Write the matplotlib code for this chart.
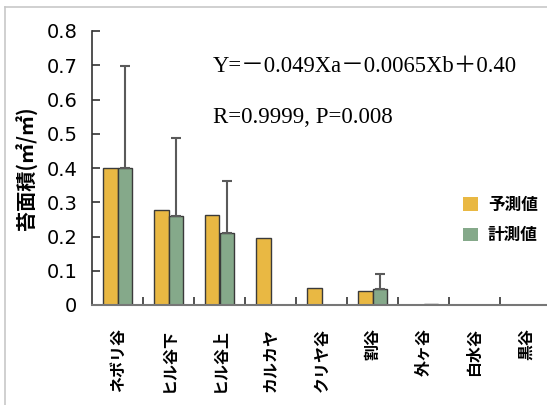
import matplotlib
matplotlib.use("Agg")
import matplotlib.pyplot as plt
from matplotlib.patches import Patch
from matplotlib.lines import Line2D
import numpy as np

plt.rcParams['font.family'] = ['Noto Sans CJK JP', 'DejaVu Sans']

categories = ["ネボリ谷", "ヒル谷下", "ヒル谷上", "カルカヤ", "クリヤ谷", "割谷", "外ヶ谷", "白水谷", "黒谷"]
predicted = [0.40, 0.278, 0.264, 0.196, 0.051, 0.042, 0.0, 0.0, 0.0]
measured = [0.40, 0.261, 0.210, 0.0, 0.0, 0.046, 0.002, 0.0, 0.0]
measured_err = [0.298, 0.227, 0.153, 0.0, 0.0, 0.044, 0.0, 0.0, 0.0]
yticks = [0, 0.1, 0.2, 0.3, 0.4, 0.5, 0.6, 0.7, 0.8]
ytick_labels = ["0", "0.1", "0.2", "0.3", "0.4", "0.5", "0.6", "0.7", "0.8"]

W, H = 547, 405
fig = plt.figure(figsize=(W / 100, H / 100), dpi=100)
ax = fig.add_axes([92 / W, 1 - 305 / H, 459 / W, 274 / H])

x = np.arange(len(categories))
bw = 0.285
yellow = "#E9B843"
green = "#85A98A"
edge = "#3a3a3a"

ax.bar(x - bw / 2, predicted, bw, color=yellow, edgecolor=edge, linewidth=1.0, zorder=2)
mx = [xi for xi, v in zip(x, measured) if v > 0]
mv = [v for v in measured if v > 0]
ax.bar(np.array(mx) + bw / 2, mv, bw, color=green, edgecolor=edge, linewidth=1.0, zorder=2)
ex = [xi + bw / 2 for xi, e in zip(x, measured_err) if e > 0]
ey = [v for v, e in zip(measured, measured_err) if e > 0]
ee = [e for e in measured_err if e > 0]
ax.errorbar(ex, ey, yerr=[np.zeros(len(ee)), ee], fmt="none", ecolor="#5a5a5a",
            elinewidth=1.5, capsize=3.5, capthick=1.5, zorder=3)

ax.set_xlim(-0.5, len(categories) - 0.5)
ax.set_ylim(0, 0.8)
ax.set_xticks(x)
ax.set_xticks(np.arange(0.5, len(categories) - 0.5, 1.0), minor=True)
ax.tick_params(axis='x', which='major', length=0, pad=16.5)
ax.tick_params(axis='x', which='minor', direction='in', length=6, width=1.2, color="#333333")
ax.tick_params(axis='y', direction='in', length=6, width=1.2, color="#333333", pad=10.5)
ax.set_yticks(yticks)
ax.set_yticklabels(ytick_labels, fontsize=14, family=['DejaVu Sans'])
ax.set_xticklabels(categories, fontsize=11.5, fontweight='bold',
                   rotation=90, rotation_mode='anchor', ha='right', va='center')

for s in ['top', 'right']:
    ax.spines[s].set_visible(False)
ax.spines['left'].set_color("#333333")
ax.spines['left'].set_linewidth(1.2)
ax.spines['bottom'].set_color("#777777")
ax.spines['bottom'].set_linewidth(1.5)

ax.set_ylabel("苔面積(㎡/㎡)", fontsize=14.5, fontweight='bold', labelpad=6)

fig.text(213 / W, 1 - 72 / H, "Y=－0.049Xa－0.0065Xb＋0.40", fontsize=16.3,
         family=['Liberation Serif', 'Noto Sans CJK JP'], va='baseline', ha='left')
fig.text(213 / W, 1 - 123 / H, "R=0.9999, P=0.008", fontsize=16.5,
         family=['Liberation Serif'], va='baseline', ha='left')

handles = [Patch(facecolor=yellow, edgecolor='none'), Patch(facecolor=green, edgecolor='none')]
leg = fig.legend(handles, ["予測値", "計測値"], loc='center left',
                 bbox_to_anchor=(463 / W, 1 - 220 / H), frameon=False,
                 borderpad=0, borderaxespad=0,
                 prop={'size': 12, 'weight': 'bold'}, handlelength=0.9, handleheight=0.9,
                 handletextpad=0.6, labelspacing=0.75)

fig.add_artist(Line2D([5 / W, 1], [1 - 7 / H, 1 - 7 / H], color="#c8c8c8", lw=1.2))
fig.add_artist(Line2D([5 / W, 5 / W], [0, 1 - 7 / H], color="#c8c8c8", lw=1.2))

fig.savefig("out.png", dpi=100)
